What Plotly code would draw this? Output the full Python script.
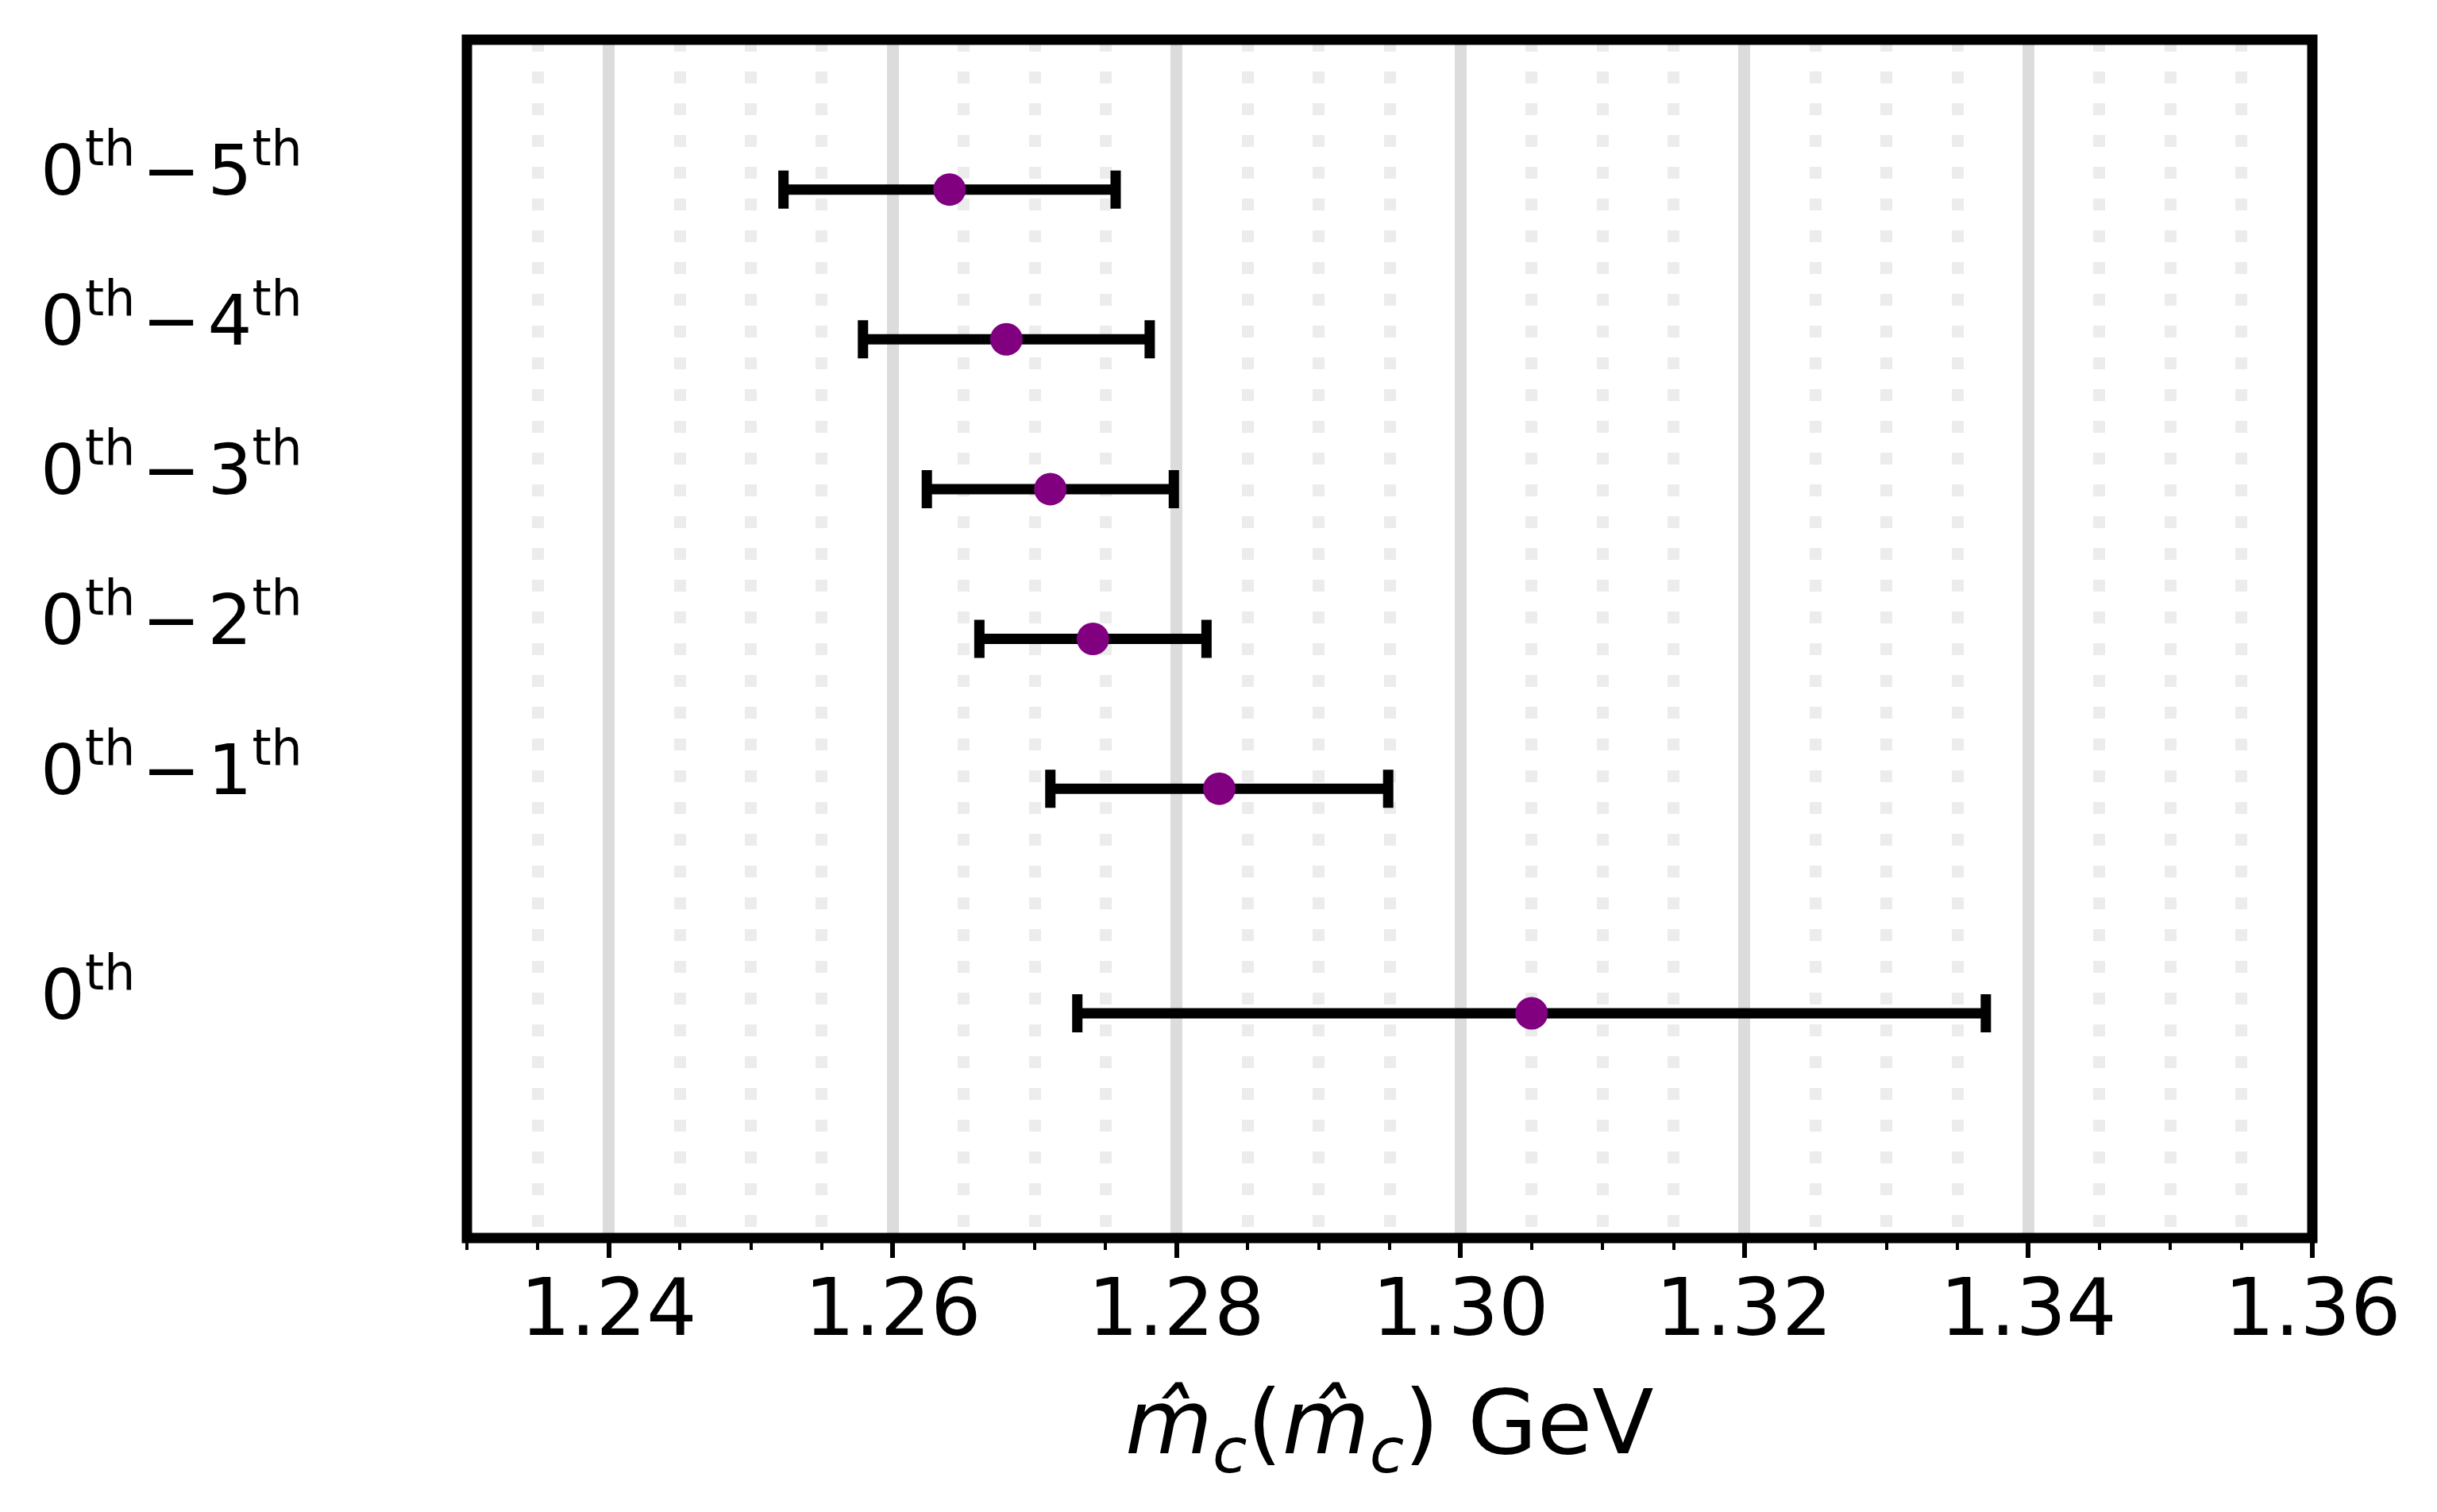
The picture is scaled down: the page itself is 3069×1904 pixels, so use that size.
import plotly.graph_objects as go

# values
labels = ['0<sup>th</sup>\u200a−\u200a5<sup>th</sup>', '0<sup>th</sup>\u200a−\u200a4<sup>th</sup>',
          '0<sup>th</sup>\u200a−\u200a3<sup>th</sup>', '0<sup>th</sup>\u200a−\u200a2<sup>th</sup>',
          '0<sup>th</sup>\u200a−\u200a1<sup>th</sup>', '0<sup>th</sup>']
y_pos = [5.5, 4.5, 3.5, 2.5, 1.5, 0.0]
mass = [1.2640, 1.2680, 1.2711, 1.2741, 1.2830, 1.3050]
err = [0.0117, 0.0101, 0.0087, 0.0080, 0.0119, 0.0320]
x_ticks = [1.24, 1.26, 1.28, 1.30, 1.32, 1.34, 1.36]

x_lo, x_hi = 1.23, 1.36
y_lo, y_hi = -1.5, 6.5

W, H = 3069, 1904
# plot box = spine centres in the reference (page body adds 8px offset)
ml, mr, mt, mb = 580, 165, 42, 353

fig = go.Figure()

fig.add_trace(go.Scatter(
    x=mass,
    y=y_pos,
    mode='markers',
    marker=dict(color='purple', size=41),
    error_x=dict(type='data', array=err, visible=True,
                 color='black', thickness=13, width=24),
    showlegend=False,
))

# row labels, left aligned out in the margin
for lab, yy in zip(labels, y_pos):
    fig.add_annotation(
        text=lab, xref='paper', yref='y', x=0, y=yy,
        xanchor='left', yanchor='middle', showarrow=False,
        xshift=41 - ml, yshift=30,
        font=dict(size=88, color='black', family='DejaVu Sans'),
    )

# x tick labels
for t in x_ticks:
    fig.add_annotation(
        text=f'{t:.2f}', xref='x', yref='paper', x=t, y=0,
        xanchor='center', yanchor='middle', showarrow=False,
        yshift=-87,
        font=dict(size=100, color='black', family='DejaVu Sans'),
    )

# x axis title
fig.add_annotation(
    text='<i>m̂</i><sub><i>c</i></sub>(<i>m̂</i><sub><i>c</i></sub>) GeV',
    xref='paper', yref='paper', x=0.5, y=0,
    xanchor='center', yanchor='middle', showarrow=False,
    yshift=-240,
    font=dict(size=113, color='black', family='DejaVu Sans'),
)

# frame (spines centred on the plot edges)
fig.add_shape(type='rect', xref='paper', yref='paper', x0=0, x1=1, y0=0, y1=1,
              line=dict(color='black', width=13), layer='above')

fig.update_layout(
    width=W, height=H,
    margin=dict(l=ml, r=mr, t=mt, b=mb, autoexpand=False),
    plot_bgcolor='white',
    paper_bgcolor='white',
    font=dict(family='DejaVu Sans', color='black'),
    xaxis=dict(
        range=[x_lo, x_hi],
        tickmode='array', tickvals=x_ticks,
        showticklabels=False,
        ticks='outside', ticklen=24, tickwidth=6, tickcolor='black',
        showgrid=True, gridcolor='#dcdcdc', gridwidth=15,
        minor=dict(tickmode='linear', tick0=1.235, dtick=0.005,
                   ticks='outside', ticklen=14, tickwidth=4, tickcolor='black',
                   showgrid=True, gridcolor='#ececec', gridwidth=15,
                   griddash='15px,25px'),
        showline=False, linewidth=0,
        zeroline=False,
        automargin=False,
    ),
    yaxis=dict(
        range=[y_lo, y_hi],
        showticklabels=False, ticks='',
        showgrid=False, zeroline=False,
        showline=False, linewidth=0,
        automargin=False,
    ),
)

fig.write_html("out.html")
